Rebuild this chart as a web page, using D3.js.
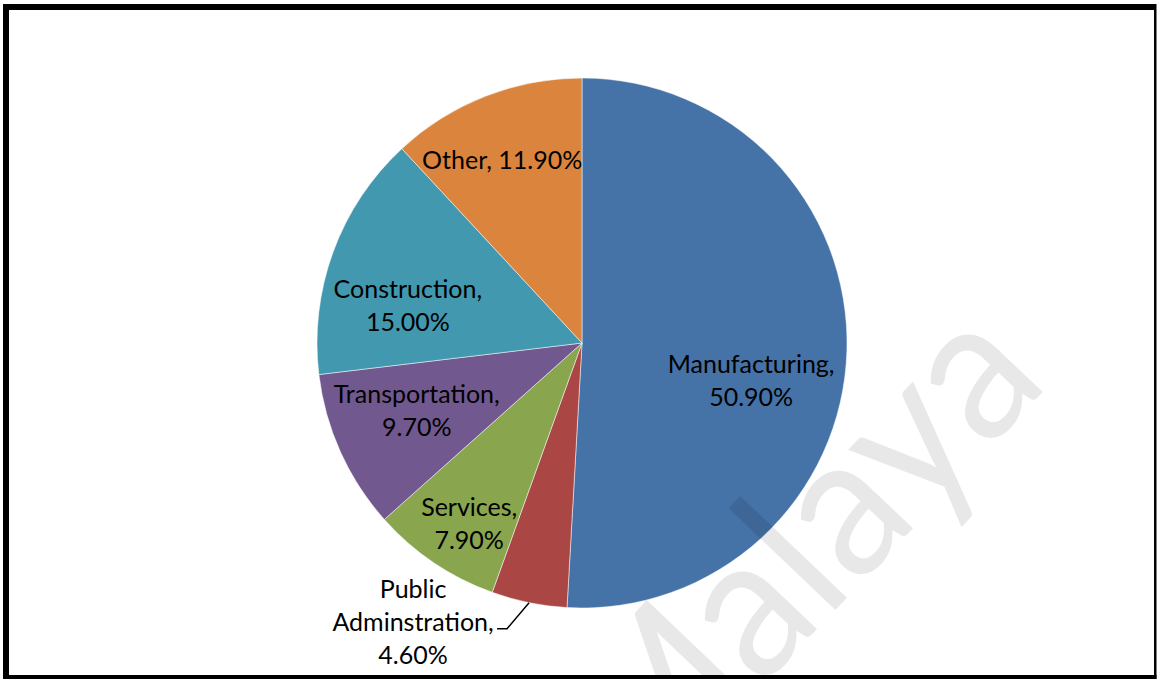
<!DOCTYPE html>
<html>
<head>
<meta charset="utf-8">
<script src="https://cdn.jsdelivr.net/npm/d3@7"></script>
<style>
  body { margin: 0; background: #fff; }
  svg { display: block; }
  text { font-family: Lato, "Open Sans", sans-serif; }
</style>
</head>
<body>
<div id="chart"></div>
<script>
// data
var sectors = ["Manufacturing", "Public Adminstration", "Services", "Transportation", "Construction", "Other"];
var shares = [50.9, 4.6, 7.9, 9.7, 15.0, 11.9];
var colors = ["#4572A7", "#AA4643", "#89A54E", "#71588F", "#4198AF", "#DB843D"];

// label text lines (as in the picture) and small nudges from the slice centroid
var labelLines = [
  ["Manufacturing,", "50.90%"],
  ["Public", "Adminstration,", "4.60%"],
  ["Services,", "7.90%"],
  ["Transportation,", "9.70%"],
  ["Construction,", "15.00%"],
  ["Other, 11.90%"]
];
var labelNudge = [[-11, 33], [0, 0], [-12, 31], [-1, -6], [-5, 25], [-14, -15]];

var W = 1158, H = 679;
var cx = 582, cy = 343, R = 265;
var lineH = 33;

var svg = d3.select("#chart").append("svg")
  .attr("width", W)
  .attr("height", H);

var g = svg.append("g")
  .attr("transform", "translate(" + cx + "," + cy + ")");

var pie = d3.pie().sort(null).value(function(d) { return d; });
var arcs = pie(shares);

var arc = d3.arc().innerRadius(0).outerRadius(R);
var labelArc = d3.arc().innerRadius(R * 0.68).outerRadius(R * 0.68);

// slices
g.selectAll("path.slice")
  .data(arcs)
  .enter()
  .append("path")
  .attr("class", "slice")
  .attr("d", arc)
  .attr("fill", function(d, i) { return colors[i]; })
  .attr("stroke", "#fff")
  .attr("stroke-width", 0.5);

// inside labels
arcs.forEach(function(d, i) {
  if (i === 1) return;
  var c = labelArc.centroid(d);
  var x = c[0] + labelNudge[i][0], y = c[1] + labelNudge[i][1];
  var lines = labelLines[i];
  var t = g.append("text")
    .attr("text-anchor", "middle")
    .attr("font-size", 25)
    .attr("fill", "#000");
  lines.forEach(function(s, k) {
    t.append("tspan")
      .attr("x", x)
      .attr("y", y + (k - (lines.length - 1) / 2) * lineH)
      .attr("dy", "0.35em")
      .text(s);
  });
});

// outside label for the small slice, with leader line
var pa = arcs[1];
var mid = (pa.startAngle + pa.endAngle) / 2;
var edge = [Math.sin(mid) * R, -Math.cos(mid) * R];
var elbow = [edge[0] - 22, edge[1] + 26];
var tail = [elbow[0] - 10, elbow[1]];
g.append("path")
  .attr("d", d3.line()([edge, elbow, tail]))
  .attr("fill", "none")
  .attr("stroke", "#000")
  .attr("stroke-width", 1.5);

var px = tail[0] - 84, py = tail[1] - 6;
var pt = g.append("text")
  .attr("text-anchor", "middle")
  .attr("font-size", 25)
  .attr("fill", "#000");
labelLines[1].forEach(function(s, k) {
  pt.append("tspan")
    .attr("x", px)
    .attr("y", py + (k - 1) * lineH)
    .attr("dy", "0.35em")
    .text(s);
});

// faint watermark over the chart
svg.append("text")
  .attr("transform", "translate(641,814) rotate(-46.4)")
  .attr("font-size", 200)
  .attr("textLength", 595)
  .attr("lengthAdjust", "spacingAndGlyphs")
  .attr("fill", "#000")
  .attr("fill-opacity", 0.09)
  .text("Malaya");

// frame
var frame = svg.append("g").attr("fill", "#000");
frame.append("rect").attr("x", 3).attr("y", 4).attr("width", 1153).attr("height", 6);
frame.append("rect").attr("x", 3).attr("y", 4).attr("width", 6).attr("height", 675);
frame.append("rect").attr("x", 1154).attr("y", 4).attr("width", 2.5).attr("height", 675);
frame.append("rect").attr("x", 3).attr("y", 675).attr("width", 1153.5).attr("height", 4);
</script>
</body>
</html>
